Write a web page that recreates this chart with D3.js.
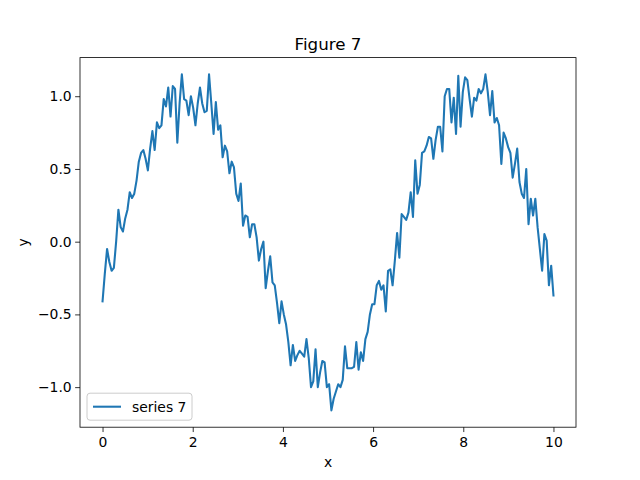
<!DOCTYPE html>
<html>
<head>
<meta charset="utf-8">
<script src="https://cdn.jsdelivr.net/npm/d3@7"></script>
<style>
  body { margin: 0; background: #fff; }
  svg { display: block; font-family: "DejaVu Sans", sans-serif; }
</style>
</head>
<body>
<div id="chart"></div>
<script>
const width = 640;
const height = 480;
const margin = { top: 57.6, right: 64, bottom: 52.8, left: 80 };

const title = "Figure 7";
const seriesName = "series 7";
const xTicks = [0, 2, 4, 6, 8, 10];
const yTicks = [-1.0, -0.5, 0.0, 0.5, 1.0];

// y values, 200 samples over x = 0..10
const yValues = [
  -0.41, -0.22, -0.05, -0.14, -0.20, -0.18, 0.00, 0.22, 0.10, 0.07,
  0.16, 0.22, 0.34, 0.30, 0.33, 0.42, 0.55, 0.61, 0.63, 0.57,
  0.49, 0.64, 0.76, 0.63, 0.82, 0.78, 0.80, 0.98, 0.93, 1.06,
  0.86, 1.07, 1.05, 0.68, 0.95, 1.15, 0.98, 0.97, 0.87, 1.00,
  0.92, 0.80, 0.95, 1.06, 0.95, 0.89, 0.90, 1.15, 0.95, 0.74,
  0.96, 0.77, 0.80, 0.58, 0.66, 0.62, 0.47, 0.55, 0.51, 0.33,
  0.28, 0.40, 0.11, 0.18, 0.17, 0.03, 0.12, 0.12, 0.03, -0.13,
  -0.05, 0.00, -0.32, -0.20, -0.10, -0.28, -0.30, -0.42, -0.56, -0.41,
  -0.50, -0.57, -0.69, -0.85, -0.71, -0.82, -0.78, -0.75, -0.77, -0.79,
  -0.67, -0.80, -1.00, -0.96, -0.74, -1.00, -0.90, -0.82, -0.83, -1.00,
  -0.98, -1.16, -1.08, -1.03, -0.98, -1.00, -0.95, -0.72, -0.87, -0.87,
  -0.87, -0.86, -0.69, -0.88, -0.76, -0.82, -0.67, -0.62, -0.50, -0.43,
  -0.43, -0.30, -0.27, -0.33, -0.30, -0.48, -0.20, -0.19, -0.30, -0.13,
  0.06, -0.11, 0.19, 0.17, 0.15, 0.20, 0.34, 0.17, 0.56, 0.33,
  0.39, 0.61, 0.62, 0.66, 0.72, 0.71, 0.57, 0.70, 0.79, 0.79,
  0.62, 1.00, 1.05, 1.05, 0.82, 0.99, 0.74, 1.14, 0.79, 1.03,
  1.13, 1.11, 0.98, 0.86, 0.99, 0.97, 1.05, 1.02, 1.05, 1.15,
  1.03, 0.87, 1.035, 0.82, 0.85, 0.80, 0.535, 0.75, 0.71, 0.65,
  0.61, 0.44, 0.535, 0.64, 0.41, 0.33, 0.30, 0.50, 0.12, 0.295,
  0.18, 0.295, 0.10, -0.05, -0.20, 0.053, 0.007, -0.30, -0.165, -0.37
];
const xValues = yValues.map((_, i) => i * 10 / (yValues.length - 1));
const data = yValues.map((y, i) => ({ x: xValues[i], y: y }));

const color = "#1f77b4";

const svg = d3.select("#chart").append("svg")
  .attr("width", width)
  .attr("height", height);

const iw = width - margin.left - margin.right;
const ih = height - margin.top - margin.bottom;

// matplotlib style 5% margins
const xExt = d3.extent(xValues);
const yExt = d3.extent(yValues);
const xPad = (xExt[1] - xExt[0]) * 0.05;
const yPad = (yExt[1] - yExt[0]) * 0.05;

const x = d3.scaleLinear()
  .domain([xExt[0] - xPad, xExt[1] + xPad])
  .range([margin.left, margin.left + iw]);
const y = d3.scaleLinear()
  .domain([yExt[0] - yPad, yExt[1] + yPad])
  .range([margin.top + ih, margin.top]);

const xAxis = d3.axisBottom(x)
  .tickValues(xTicks)
  .tickFormat(d3.format("d"))
  .tickSizeOuter(0)
  .tickSize(4.86)
  .tickPadding(3.5);
const yAxis = d3.axisLeft(y)
  .tickValues(yTicks)
  .tickFormat(d3.format(".1f"))
  .tickSizeOuter(0)
  .tickSize(4.86)
  .tickPadding(3.5);

const gx = svg.append("g")
  .attr("transform", `translate(0,${margin.top + ih})`)
  .call(xAxis);
const gy = svg.append("g")
  .attr("transform", `translate(${margin.left},0)`)
  .call(yAxis);

[gx, gy].forEach(g => {
  g.select(".domain").remove();
  g.selectAll("line").attr("stroke", "#000").attr("stroke-width", 0.8);
  g.selectAll("text")
    .attr("fill", "#000")
    .style("font-family", "DejaVu Sans")
    .style("font-size", "13.9px");
});
gx.selectAll("text").attr("dy", "0.85em");

const line = d3.line()
  .x(d => x(d.x))
  .y(d => y(d.y));

svg.append("path")
  .datum(data)
  .attr("fill", "none")
  .attr("stroke", color)
  .attr("stroke-width", 2.08)
  .attr("stroke-linejoin", "round")
  .attr("stroke-linecap", "square")
  .attr("d", line);

// axes frame
svg.append("rect")
  .attr("x", margin.left)
  .attr("y", margin.top)
  .attr("width", iw)
  .attr("height", ih)
  .attr("fill", "none")
  .attr("stroke", "#000")
  .attr("stroke-width", 0.8);

svg.append("text")
  .attr("x", margin.left + iw / 2)
  .attr("y", margin.top - 8)
  .attr("text-anchor", "middle")
  .style("font-size", "16.7px")
  .text(title);

svg.append("text")
  .attr("x", margin.left + iw / 2)
  .attr("y", 467)
  .attr("text-anchor", "middle")
  .style("font-size", "13.9px")
  .text("x");

svg.append("text")
  .attr("transform", `translate(28,${margin.top + ih / 2}) rotate(-90)`)
  .attr("text-anchor", "middle")
  .style("font-size", "13.9px")
  .text("y");

// legend, lower left
const lg = svg.append("g").attr("transform", `translate(${margin.left + 7},${margin.top + ih - 34})`);
lg.append("rect")
  .attr("width", 105)
  .attr("height", 27)
  .attr("rx", 3)
  .attr("fill", "#fff")
  .attr("fill-opacity", 0.8)
  .attr("stroke", "#cccccc")
  .attr("stroke-width", 1);
lg.append("line")
  .attr("x1", 6).attr("x2", 34)
  .attr("y1", 13.5).attr("y2", 13.5)
  .attr("stroke", color)
  .attr("stroke-width", 2.08);
lg.append("text")
  .attr("x", 45)
  .attr("y", 18.5)
  .style("font-size", "13.9px")
  .text(seriesName);
</script>
</body>
</html>
